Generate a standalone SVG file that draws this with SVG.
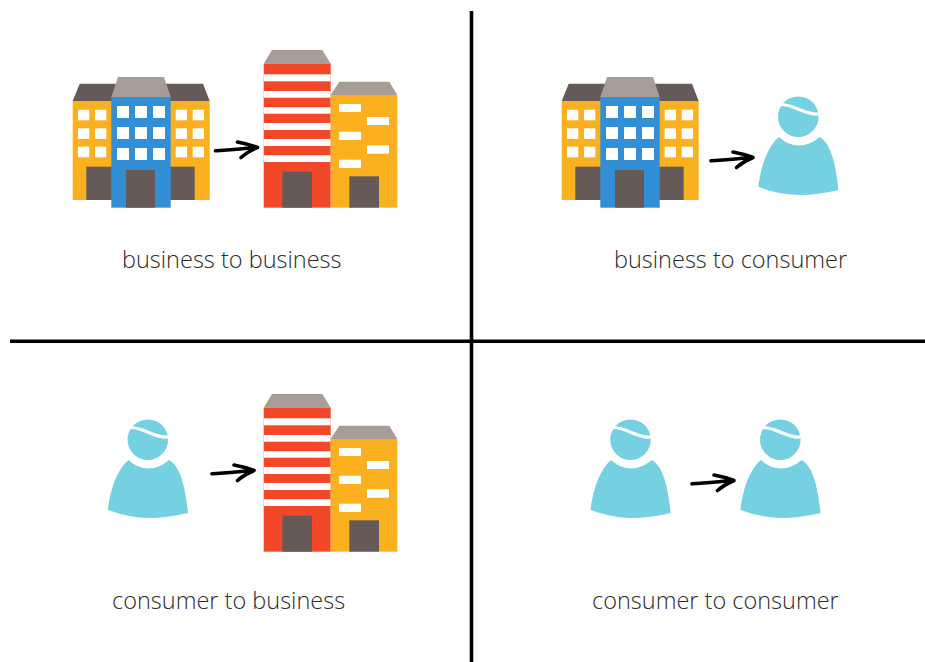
<svg xmlns="http://www.w3.org/2000/svg" xmlns:xlink="http://www.w3.org/1999/xlink" width="925" height="662" viewBox="0 0 925 662">
<style>
.y{fill:#fbb11f}.b{fill:#328fd6}.r{fill:#f3472a}.d{fill:#655a57}.g{fill:#a79c98}.w{fill:#fff}.p{fill:#75d1e2}
.divider{stroke:#000;stroke-width:3.6;fill:none}
.arrow{stroke:#000;fill:none;stroke-linecap:round;stroke-linejoin:round}
.t{font-family:"Open Sans","Liberation Sans",sans-serif;font-weight:300;font-size:23.5px;fill:#2b2b2b}
</style>
<defs>
<g id="cluster">
<path class="d" d="M79.7 83.7H203L209.7 101H72.7Z"/>
<rect class="y" x="72.7" y="101" width="137" height="99"/>
<rect class="d" x="86.3" y="166.7" width="108.4" height="33.3"/>
<rect class="b" x="111.3" y="97" width="59.4" height="110.7"/>
<path class="g" d="M118 77H164L170.7 97H111.3Z"/>
<rect class="d" x="126" y="170" width="29" height="37.7"/>
<g class="w">
<rect x="78" y="109.7" width="11.3" height="10.6"/><rect x="95" y="109.7" width="11.3" height="10.6"/>
<rect x="78" y="128.3" width="11.3" height="10.6"/><rect x="95" y="128.3" width="11.3" height="10.6"/>
<rect x="78" y="146.7" width="11.3" height="10.6"/><rect x="95" y="146.7" width="11.3" height="10.6"/>
<rect x="175.7" y="109.7" width="11.3" height="10.6"/><rect x="192.7" y="109.7" width="11.3" height="10.6"/>
<rect x="175.7" y="128.3" width="11.3" height="10.6"/><rect x="192.7" y="128.3" width="11.3" height="10.6"/>
<rect x="175.7" y="146.7" width="11.3" height="10.6"/><rect x="192.7" y="146.7" width="11.3" height="10.6"/>
<rect x="117" y="106" width="12" height="12"/><rect x="135" y="106" width="12" height="12"/><rect x="153" y="106" width="12" height="12"/>
<rect x="117" y="127" width="12" height="12"/><rect x="135" y="127" width="12" height="12"/><rect x="153" y="127" width="12" height="12"/>
<rect x="117" y="148" width="12" height="12"/><rect x="135" y="148" width="12" height="12"/><rect x="153" y="148" width="12" height="12"/>
</g>
</g>
<g id="towers">
<path class="g" d="M272 50H322.3L330.7 63.7H263.7Z"/>
<rect class="r" x="263.7" y="63.7" width="67" height="144"/>
<g class="w">
<rect x="263.7" y="74.3" width="67" height="7"/><rect x="263.7" y="91" width="67" height="6.7"/>
<rect x="263.7" y="107.3" width="67" height="6.4"/><rect x="263.7" y="123" width="67" height="7"/>
<rect x="263.7" y="139" width="67" height="7"/><rect x="263.7" y="155.3" width="67" height="6.7"/>
</g>
<rect class="d" x="282.3" y="171.7" width="29.7" height="36"/>
<path class="g" d="M339.3 81.7H389.3L397.3 95H330.7Z"/>
<rect class="y" x="330.7" y="95" width="66.6" height="112.7"/>
<rect class="d" x="349.3" y="176.3" width="29.7" height="31.4"/>
<g class="w">
<rect x="339" y="104" width="22" height="8"/><rect x="367" y="117" width="22" height="8"/>
<rect x="339" y="131.7" width="22" height="8.3"/><rect x="367" y="145.3" width="22" height="8.4"/>
<rect x="339" y="159.7" width="22" height="8.3"/>
</g>
</g>
<g id="person">
<circle class="p" cx="798.3" cy="116.7" r="20.3"/>
<path d="M776 105Q784 103 798 109T819 114" fill="none" stroke="#fff" stroke-width="3.2"/>
<path class="p" d="M779 137Q788 145.500 799 145.500Q810 145.500 819.500 137C831 143 836 165 838.500 190Q818 195 798 195Q776 194 758.300 186.700C761 165 768 146 779 137Z"/>
</g>
<path id="arr" class="arrow" d="M0 3.800C14 3.200 28 1.500 41 .5M22-5Q33-3 42 .5Q33 4 25.500 10.500"/>
</defs>
<rect width="925" height="662" fill="#fff"/>
<g id="connectors">
<path class="divider" d="M471.500 11V662"/>
<path class="divider" d="M10 341.200H925"/>
<use href="#arr" x="215.500" y="147" stroke-width="3.600"/>
<use href="#arr" x="711" y="157" stroke-width="3.600"/>
<use href="#arr" x="212" y="470" stroke-width="3.600"/>
<use href="#arr" x="692" y="480" stroke-width="3.600"/>
</g>
<g id="b2b-source"><use href="#cluster"/></g>
<g id="b2b-target"><use href="#towers"/></g>
<g id="b2c-source"><use href="#cluster" x="489"/></g>
<g id="b2c-target"><use href="#person"/></g>
<g id="c2b-source"><use href="#person" x="-650.500" y="323"/></g>
<g id="c2b-target"><use href="#towers" y="344"/></g>
<g id="c2c-source"><use href="#person" x="-167.800" y="323"/></g>
<g id="c2c-target"><use href="#person" x="-18" y="323"/></g>
<g id="labels">
<text class="t" x="122" y="268">business to business</text>
<text class="t" x="614" y="268">business to consumer</text>
<text class="t" x="112" y="609">consumer to business</text>
<text class="t" x="592" y="609">consumer to consumer</text>
</g>
</svg>
